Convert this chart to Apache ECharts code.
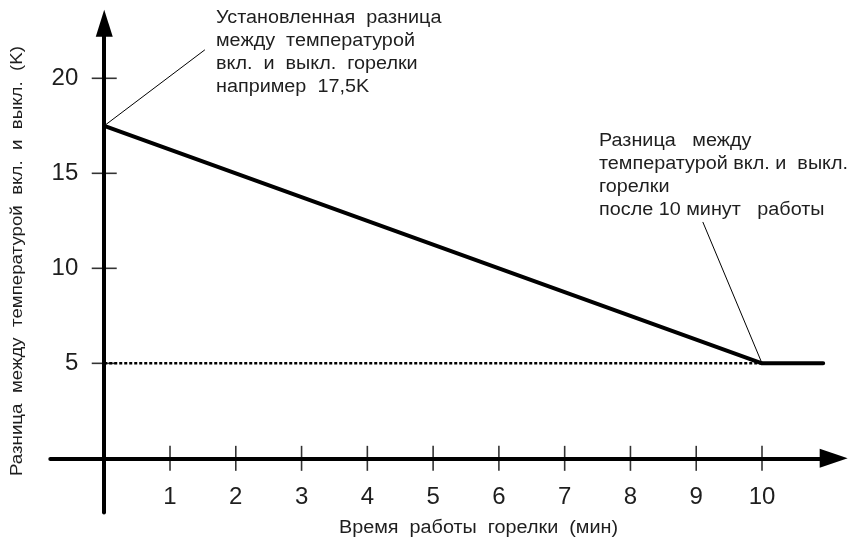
<!DOCTYPE html>
<html>
<head>
<meta charset="utf-8">
<script src="https://cdn.jsdelivr.net/npm/echarts@6/dist/echarts.min.js"></script>
<style>
  html, body { margin: 0; padding: 0; background: #ffffff; }
  #chart { width: 859px; height: 538px; }
</style>
</head>
<body>
<div id="chart"></div>
<script>
// Burner switch-on / switch-off temperature difference over burner run time
const runTime = [0, 10, 10.93];            // minutes
const tempDiff = [17.5, 5, 5];             // K
const floorTime = [0, 10];
const floorDiff = [5, 5];
const xTickValues = [1, 2, 3, 4, 5, 6, 7, 8, 9, 10];
const yTickValues = [5, 10, 15, 20];

const xName = 'Время  работы  горелки  (мин)';
const yName = 'Разница  между  температурой  вкл.  и  выкл.  (K)';

const noteSetPoint = [
  'Установленная  разница',
  'между  температурой',
  'вкл.  и  выкл.  горелки',
  'например  17,5K'
];
const noteAfterTen = [
  'Разница   между',
  'температурой вкл. и  выкл.',
  'горелки',
  'после 10 минут   работы'
];
// leader lines: from the marked point to its note
const leaderSetPoint = [[0, 17.5], [1.53, 21.5]];
const leaderAfterTen = [[10, 5], [9.10, 12.44]];

const FONT = '"Liberation Sans", Arial, sans-serif';
const INK = '#1e1e1e';
const STRETCH = 1.1;   // the lettering is set slightly wide

const chart = echarts.init(document.getElementById('chart'), null, { renderer: 'canvas' });

const pairs = (xs, ys) => xs.map((x, i) => [x, ys[i]]);

chart.setOption({
  animation: false,
  backgroundColor: '#ffffff',
  grid: {
    left: 50.3, right: 25.3, top: 23.2, bottom: 25.5,
    containLabel: false, outerBoundsMode: 'none'
  },
  xAxis: {
    type: 'value',
    min: -0.82, max: 11.09,
    splitLine: { show: false },
    axisTick: { show: false },
    axisLine: {
      onZero: true,
      symbol: ['none', 'triangle'],
      symbolSize: [19, 28],
      lineStyle: { color: '#000', width: 4 }
    },
    axisLabel: {
      customValues: xTickValues,
      margin: -27,
      fontSize: 24,
      fontFamily: FONT,
      color: INK
    }
  },
  yAxis: {
    type: 'value',
    min: -2.85, max: 22.9,
    splitLine: { show: false },
    axisTick: { show: false },
    axisLine: {
      onZero: true,
      symbol: ['none', 'triangle'],
      symbolSize: [17, 27],
      lineStyle: { color: '#000', width: 4 }
    },
    axisLabel: {
      customValues: yTickValues,
      margin: -28,
      fontSize: 24,
      fontFamily: FONT,
      color: INK
    }
  },
  series: [
    {
      type: 'line',
      data: pairs(floorTime, floorDiff),
      symbol: 'none',
      clip: false,
      lineStyle: { color: '#000', width: 2.5, type: [3, 2] },
      z: 2
    },
    {
      type: 'line',
      data: pairs(runTime, tempDiff),
      symbol: 'none',
      clip: false,
      lineStyle: { color: '#000', width: 4, cap: 'round', join: 'round' },
      z: 3
    },
    {
      type: 'line',
      data: leaderSetPoint,
      symbol: 'none',
      clip: false,
      lineStyle: { color: '#000', width: 1 },
      z: 3
    },
    {
      type: 'line',
      data: leaderAfterTen,
      symbol: 'none',
      clip: false,
      lineStyle: { color: '#000', width: 1 },
      z: 3
    },
    {
      type: 'scatter',
      data: xTickValues.map(v => [v, 0]),
      symbol: 'rect',
      symbolSize: [1.6, 25],
      itemStyle: { color: '#000' },
      silent: true,
      z: 4
    },
    {
      type: 'scatter',
      data: yTickValues.map(v => [0, v]),
      symbol: 'rect',
      symbolSize: [25, 1.6],
      itemStyle: { color: '#000' },
      silent: true,
      z: 4
    }
  ],
  graphic: [
    {
      type: 'text', x: 216, y: 6.2, scaleX: STRETCH, silent: true,
      style: { text: noteSetPoint.join('\n'), font: '18px ' + FONT, lineHeight: 23, fill: INK }
    },
    {
      type: 'text', x: 599, y: 129.5, scaleX: STRETCH, silent: true,
      style: { text: noteAfterTen.join('\n'), font: '18px ' + FONT, lineHeight: 23, fill: INK }
    },
    {
      type: 'text', x: 339, y: 517, scaleX: STRETCH, silent: true,
      style: { text: xName, font: '18px ' + FONT, lineHeight: 22, fill: INK }
    },
    {
      type: 'text', x: 17, y: 261, rotation: Math.PI / 2, scaleX: STRETCH, silent: true,
      style: { text: yName, font: '17px ' + FONT, align: 'center', verticalAlign: 'middle', fill: INK }
    }
  ]
});
</script>
</body>
</html>
